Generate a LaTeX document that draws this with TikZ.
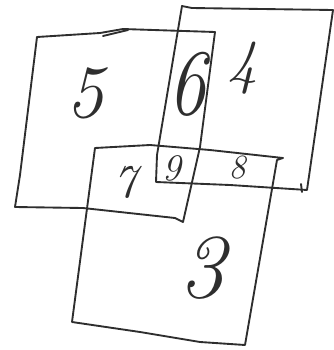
\documentclass[tikz,border=0pt]{standalone}
\usetikzlibrary{positioning}
\definecolor{penC}{HTML}{2E2E2E}

\begin{document}
\begin{tikzpicture}[
  x=0.03cm, y=-0.03cm,
  every node/.style={text=penC},
  sketch/.style={draw=penC, line width=1.6pt, line join=round, line cap=round},
  digit/.style={font=\itshape\fontsize{#1}{#1}\selectfont, inner sep=0pt},
]
\useasboundingbox (0,0) rectangle (334,350);

% ── Region 5 (left box) ──
\draw[sketch] (37,37) -- (100,33) -- (123,29) -- (215,32)
  -- (200,147) -- (183,222) -- (175,218) -- (83,208) -- (15,207)
  -- (20,175) -- cycle;
\draw[sketch] (103,36) -- (128,30);

% ── Region 4 (right box) ──
\draw[sketch] (182,6) -- (192,8) -- (333,10) -- (307,190)
  -- (230,185) -- (156,182) -- (157,155) -- cycle;
\draw[sketch] (301,184) -- (302,192);

% ── Region 3 (bottom box) ──
\draw[sketch] (95,148) -- (150,145) -- (210,150) -- (283,158)
  -- (277,160) -- (245,345) -- (200,342) -- (140,332) -- (72,322)
  -- cycle;

% ── Labels ──
\node[digit=64] (n5) at (85,93) {5};
\node[digit=80, xscale=0.8] (n6) at (187,84) {6};
\node[digit=52] (n4) at (243,68) {4};
\node[digit=40] (n7) at (125,182) {7};
\node[digit=32] (n9) at (172,168) {9};
\node[digit=29] (n8) at (237,168) {8};
\node[digit=78] (n3) at (202,268) {3};

\end{tikzpicture}
\end{document}
